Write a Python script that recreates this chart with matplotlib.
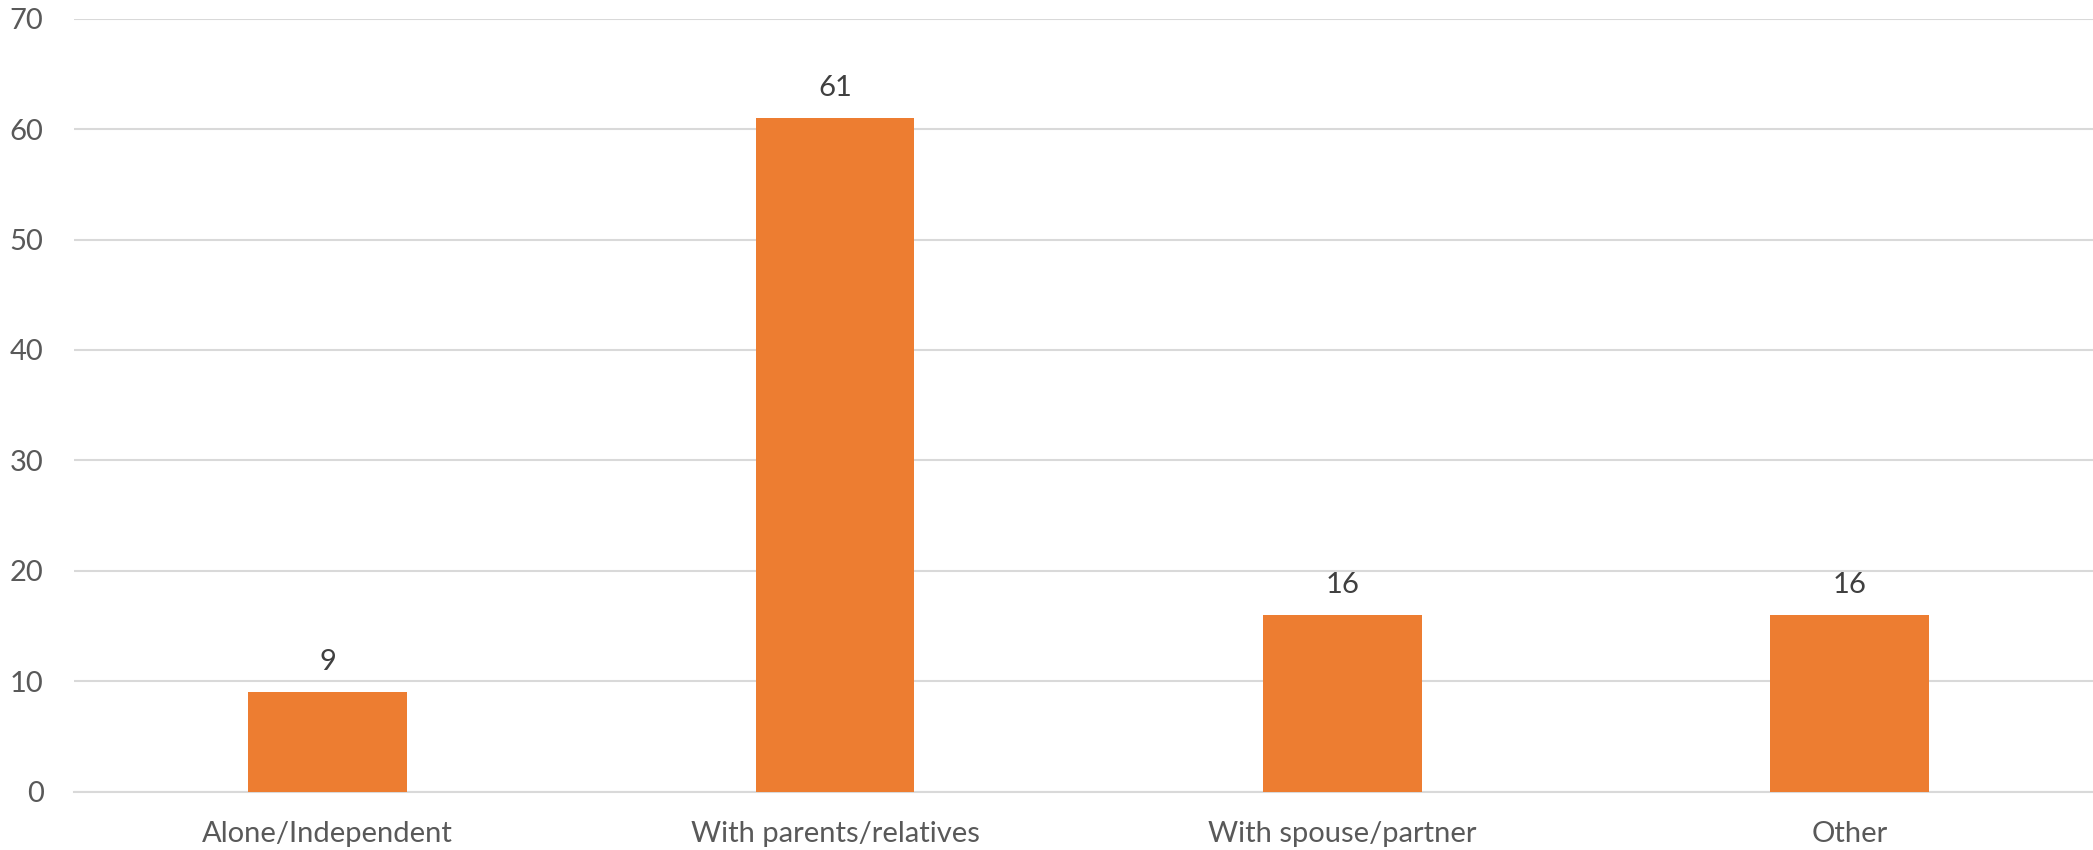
import matplotlib
matplotlib.use('Agg')
from matplotlib import pyplot as plt
import numpy as np

categories = ['Alone/Independent', 'With parents/relatives', 'With spouse/partner', 'Other']
values = [9, 61, 16, 16]
yticks = [0, 10, 20, 30, 40, 50, 60, 70]

plt.rcParams['font.family'] = ['Lato', 'DejaVu Sans']

fig = plt.figure(figsize=(20.93, 8.5), dpi=100)
ax = fig.add_axes([0.0354, 0.0688, 0.9694, 0.9092])

x = np.arange(len(categories))
bars = ax.bar(x, values, width=0.313, color='#ED7D31', zorder=3)

for b, v in zip(bars, values):
    ax.annotate(str(v), (b.get_x() + b.get_width() / 2, v), xytext=(0, 12),
                textcoords='offset points', ha='center', va='bottom',
                fontsize=21, color='#404040')

ax.set_xlim(-0.5, len(categories) - 0.5)
ax.set_ylim(0, 70)
ax.set_yticks(yticks)
ax.set_xticks(x)
ax.set_xticklabels(categories)

ax.grid(axis='y', color='#D9D9D9', linewidth=1.5, zorder=0)
for s in ['top', 'right', 'left']:
    ax.spines[s].set_visible(False)
ax.spines['bottom'].set_color('#D9D9D9')
ax.spines['bottom'].set_linewidth(1.5)

ax.tick_params(axis='both', length=0, labelsize=21, colors='#595959')
ax.tick_params(axis='y', pad=22)
ax.tick_params(axis='x', pad=21)

fig.savefig('out.png', dpi=100)
